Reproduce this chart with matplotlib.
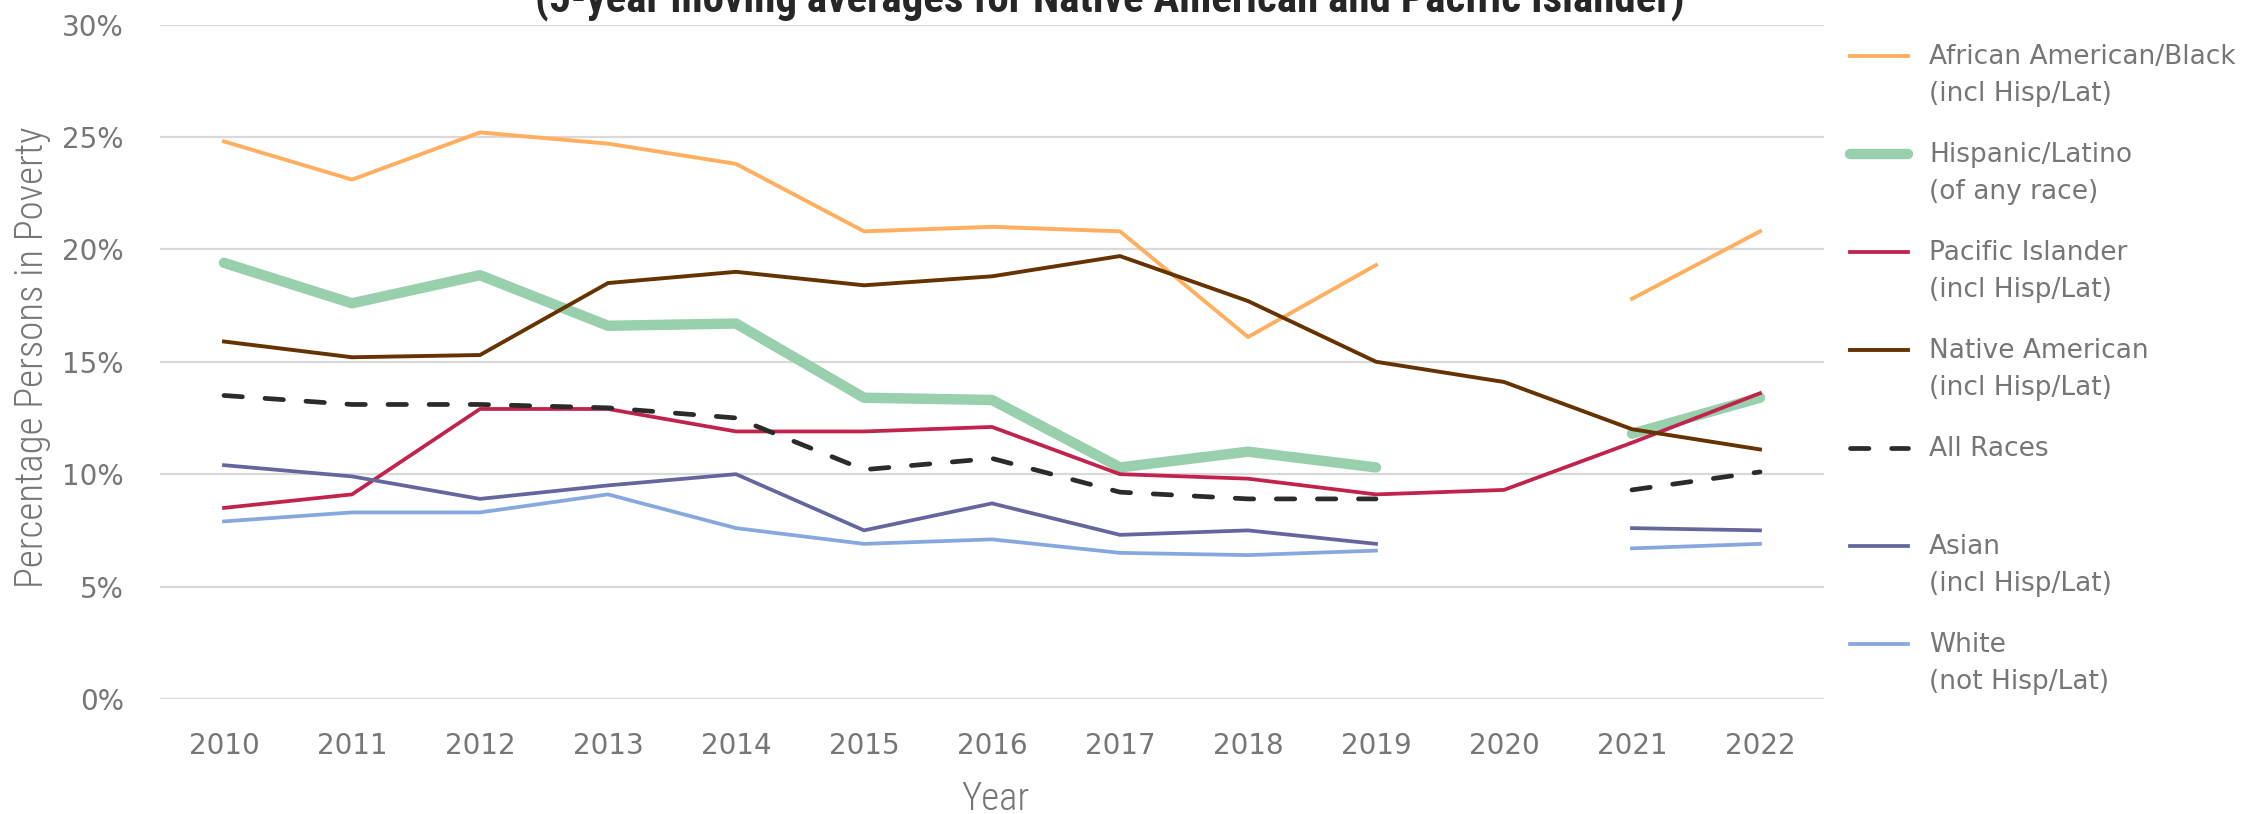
import numpy as np
import matplotlib
matplotlib.use('Agg')
import matplotlib.pyplot as plt
from matplotlib.legend_handler import HandlerLine2D

# ───────────────────────── DATA ─────────────────────────
years = [str(y) for y in range(2010, 2023)]
nan = np.nan

black = [24.8, 23.1, 25.2, 24.7, 23.8, 20.8, 21.0, 20.8, 16.1, 19.3, nan, 17.8, 20.8]
hispanic = [19.4, 17.6, 18.85, 16.6, 16.7, 13.4, 13.3, 10.3, 11.0, 10.3, nan, 11.8, 13.4]
pacific = [8.5, 9.1, 12.9, 12.9, 11.9, 11.9, 12.1, 10.0, 9.8, 9.1, 9.3, 11.4, 13.6]
native = [15.9, 15.2, 15.3, 18.5, 19.0, 18.4, 18.8, 19.7, 17.7, 15.0, 14.1, 12.0, 11.1]
all_races = [13.5, 13.1, 13.1, 12.95, 12.5, 10.2, 10.7, 9.2, 8.9, 8.9, nan, 9.3, 10.1]
asian = [10.4, 9.9, 8.9, 9.5, 10.0, 7.5, 8.7, 7.3, 7.5, 6.9, nan, 7.6, 7.5]
white = [7.9, 8.3, 8.3, 9.1, 7.6, 6.9, 7.1, 6.5, 6.4, 6.6, nan, 6.7, 6.9]

y_ticks = [0, 5, 10, 15, 20, 25, 30]

GRAY = '#767676'
NARROW = ['Roboto Condensed', 'Open Sans Condensed', 'Archivo Narrow',
          'Asap Condensed', 'DejaVu Sans']


class FirstLineHandler(HandlerLine2D):
    """Put the legend handle level with the first line of a two-line label."""
    def create_artists(self, legend, orig_handle, xdescent, ydescent,
                       width, height, fontsize, trans):
        artists = super().create_artists(legend, orig_handle, xdescent, ydescent,
                                         width, height, fontsize, trans)
        for a in artists:
            a.set_ydata(np.asarray(a.get_ydata()) + 0.78 * fontsize)
        return artists


fig = plt.figure(figsize=(22.61, 8.14), dpi=100)
fig.patch.set_facecolor('white')
ax = fig.add_axes([160 / 2261, 1 - 699 / 814, 1664 / 2261, (699 - 24.5) / 814])

x = np.arange(len(years))
series = [
    (black, 'African American/Black\n(incl Hisp/Lat)', dict(color='#FFAF5F', lw=2.8)),
    (hispanic, 'Hispanic/Latino\n(of any race)', dict(color='#98CFAC', lw=7.5,
                                                      solid_capstyle='round')),
    (pacific, 'Pacific Islander\n(incl Hisp/Lat)', dict(color='#C0234B', lw=2.7)),
    (native, 'Native American\n(incl Hisp/Lat)', dict(color='#663300', lw=2.8)),
    (all_races, 'All Races\n ', dict(color='#2B2B2B', lw=3.4, ls=(0, (3.9, 4.8)),
                                     dash_capstyle='round')),
    (asian, 'Asian\n(incl Hisp/Lat)', dict(color='#66669E', lw=2.7)),
    (white, 'White\n(not Hisp/Lat)', dict(color='#86A8DF', lw=2.7)),
]
handles = []
for values, label, style in series:
    line, = ax.plot(x, values, label=label, **style)
    handles.append(line)

ax.set_xlim(-0.5, len(years) - 0.5)
ax.set_ylim(0, 30)
ax.set_xticks(x)
ax.set_xticklabels(years)
ax.set_yticks(y_ticks)
ax.set_yticklabels([f'{v}%' for v in y_ticks])
ax.tick_params(axis='both', length=0, labelsize=20, labelcolor=GRAY)
ax.tick_params(axis='y', pad=26)
ax.tick_params(axis='x', pad=24)
ax.yaxis.grid(True, color='#D9D9D9', lw=1.6)
ax.set_axisbelow(True)
for s in ax.spines.values():
    s.set_visible(False)

fig.text(32 / 2261, 1 - 357 / 814, 'Percentage Persons in Poverty', rotation=90,
         ha='center', va='center', fontsize=28, color=GRAY, family=NARROW,
         fontweight='light')
fig.text(995 / 2261, 1 - 799 / 814, 'Year', ha='center', va='center',
         fontsize=28, color=GRAY, family=NARROW, fontweight='light')
fig.text(1110 / 2261, 1 - 12.5 / 814,
         '(5-year moving averages for Native American and Pacific Islander)',
         ha='center', va='baseline', fontsize=31, fontweight='bold',
         color='#262626', family=NARROW)

leg = fig.legend(handles=handles, loc='upper left',
                 bbox_to_anchor=(1850 / 2261, 1 - 44 / 814),
                 frameon=False, fontsize=19, labelcolor=GRAY,
                 handlelength=2.2, handletextpad=0.8, labelspacing=1.31,
                 borderpad=0, borderaxespad=0,
                 handler_map={h: FirstLineHandler() for h in handles})
for t in leg.get_texts():
    t.set_linespacing(1.57)

fig.savefig('out.png', dpi=100, facecolor='white')
